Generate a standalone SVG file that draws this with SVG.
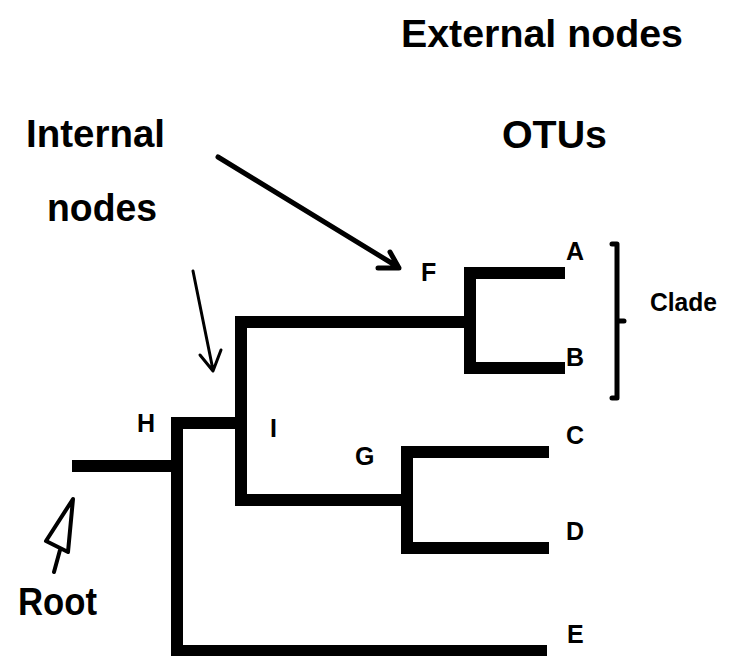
<svg xmlns="http://www.w3.org/2000/svg" width="732" height="656" viewBox="0 0 732 656">
<defs>
<style>
.big{font-family:"Liberation Sans",Arial,sans-serif;font-weight:bold;font-size:39px;fill:#000}
.lbl{font-family:"Liberation Sans",Arial,sans-serif;font-weight:bold;font-size:25px;fill:#000}
.br{fill:none;stroke:#000;stroke-width:12;stroke-linejoin:miter;stroke-linecap:butt}
.ar{fill:none;stroke:#000;stroke-linecap:round;stroke-linejoin:round}
</style>
</defs>
<rect width="732" height="656" fill="#fff"/>
<g id="connectors">
<path class="br" d="M72 466 H177"/>
<path class="br" d="M241 423 H177 V651 H547"/>
<path class="br" d="M470 322 H241 V500 H407"/>
<path class="br" d="M565 273 H470 V368 H565"/>
<path class="br" d="M549 452 H407 V548 H549"/>
<path class="ar" stroke-width="5" d="M218 157 L398 267 M378 268 L399 268 L390 252"/>
<path class="ar" stroke-width="3" d="M193 271 L213 370 M200 355 L213 371 L221 350"/>
<path class="ar" stroke-width="4" d="M73 499 L46 541 L68 552 Z M60 550 L54 572"/>
<path class="ar" stroke-width="5" d="M612 244 H617 V398 H612 M617 321 H624"/>
</g>
<g id="title-external"><text class="big" x="401" y="47" textLength="282" lengthAdjust="spacingAndGlyphs">External nodes</text></g>
<g id="title-internal"><text class="big" x="26" y="147" textLength="139" lengthAdjust="spacingAndGlyphs">Internal</text><text class="big" x="47" y="221" textLength="110" lengthAdjust="spacingAndGlyphs">nodes</text></g>
<g id="title-otus"><text class="big" x="502" y="148" textLength="105" lengthAdjust="spacingAndGlyphs">OTUs</text></g>
<g id="root"><text class="big" x="18" y="615" textLength="79" lengthAdjust="spacingAndGlyphs">Root</text></g>
<g id="node-H"><text class="lbl" x="137" y="432">H</text></g>
<g id="node-I"><text class="lbl" x="270" y="437">I</text></g>
<g id="node-G"><text class="lbl" x="355" y="465">G</text></g>
<g id="node-F"><text class="lbl" x="421" y="281">F</text></g>
<g id="node-A"><text class="lbl" x="566" y="260">A</text></g>
<g id="node-B"><text class="lbl" x="566" y="366">B</text></g>
<g id="node-C"><text class="lbl" x="566" y="444">C</text></g>
<g id="node-D"><text class="lbl" x="566" y="540">D</text></g>
<g id="node-E"><text class="lbl" x="567" y="643">E</text></g>
<g id="clade"><text class="lbl" x="650" y="311" textLength="67" lengthAdjust="spacingAndGlyphs">Clade</text></g>
</svg>
